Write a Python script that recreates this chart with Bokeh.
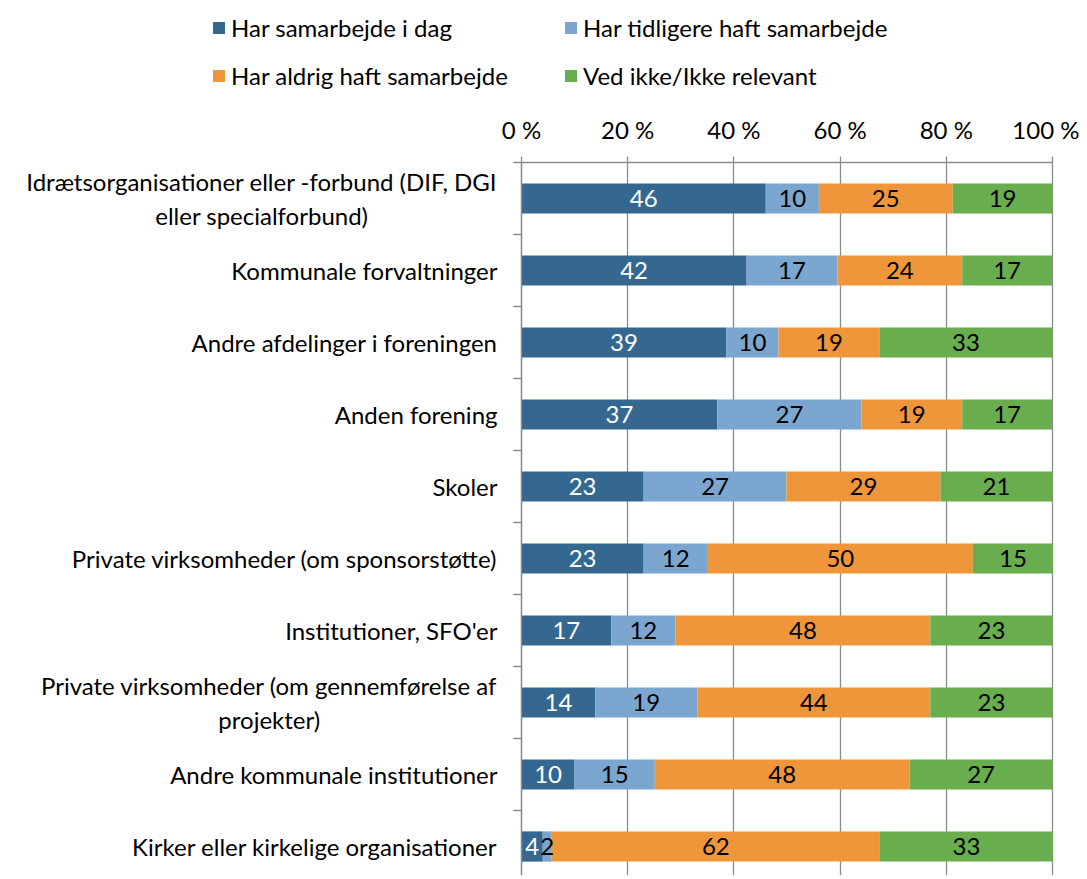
from bokeh.plotting import figure
from bokeh.models import (ColumnDataSource, Range1d, FixedTicker, Legend, LegendItem, Text)
from bokeh.core.properties import value
from bokeh.embed import file_html
from bokeh.resources import INLINE
import numpy as np

categories = [
    "Idrætsorganisationer eller -forbund (DIF, DGI\neller specialforbund)",
    "Kommunale forvaltninger",
    "Andre afdelinger i foreningen",
    "Anden forening",
    "Skoler",
    "Private virksomheder (om sponsorstøtte)",
    "Institutioner, SFO'er",
    "Private virksomheder (om gennemførelse af\nprojekter)",
    "Andre kommunale institutioner",
    "Kirker eller kirkelige organisationer",
]
series_names = ["Har samarbejde i dag", "Har tidligere haft samarbejde",
                "Har aldrig haft samarbejde", "Ved ikke/Ikke relevant"]
har_i_dag = [46.0, 42.4, 38.6, 36.9, 23.0, 23.0, 16.9, 13.9, 10.0, 4.0]
tidligere = [10.0, 17.1, 9.8, 27.1, 26.9, 12.1, 12.1, 19.2, 15.1, 1.7]
aldrig = [25.2, 23.5, 19.0, 19.0, 29.0, 49.9, 48.0, 43.9, 48.0, 61.8]
ved_ikke = [18.8, 16.9, 32.6, 16.9, 21.1, 15.1, 23.0, 23.0, 26.9, 32.6]
x_ticks = [0, 20, 40, 60, 80, 100]
x_tick_labels = ["0 %", "20 %", "40 %", "60 %", "80 %", "100 %"]

colors = ["#346891", "#7aa6cf", "#f0963a", "#69ad4f"]
label_colors = ["white", "black", "black", "black"]
FONT = "Lato"
FS = "24px"
GRID = "#8c8c8c"

# layout constants (pixels)
W, H = 1079, 875
FRAME_L, FRAME_R, FRAME_T = 521, 1052, 162
ROW_PX = 72.0
px_per_pct = (FRAME_R - FRAME_L) / 100.0
x_start = -FRAME_L / px_per_pct
x_end = 100 + (W - FRAME_R) / px_per_pct
y_top = -0.5 - FRAME_T / ROW_PX
y_bottom = -0.5 + (H - FRAME_T) / ROW_PX

keys = ["s0", "s1", "s2", "s3"]
series = [har_i_dag, tidligere, aldrig, ved_ikke]
ys = list(range(len(categories)))
data = {"y": ys}
for k, s in zip(keys, series):
    data[k] = s
source = ColumnDataSource(data)

p = figure(width=W, height=H, output_backend="svg", toolbar_location=None,
           x_range=Range1d(x_start, x_end), y_range=Range1d(y_bottom, y_top),
           x_axis_location="above", min_border_left=0, min_border_right=0,
           min_border_top=0, min_border_bottom=0)
p.outline_line_color = None

# gridlines limited to the plot area
has_cross = "cross_bounds" in p.xgrid[0].properties()
if has_cross:
    p.xgrid.ticker = FixedTicker(ticks=x_ticks)
    p.xgrid.bounds = (0, 100)
    p.xgrid.cross_bounds = (-0.5, y_bottom)
    p.xgrid.grid_line_color = GRID
    p.xgrid.grid_line_width = 1.3
else:
    p.xgrid.grid_line_color = None
    gsrc = ColumnDataSource(dict(x=x_ticks, y0=[-0.5] * len(x_ticks), y1=[y_bottom] * len(x_ticks)))
    p.segment(x0="x", x1="x", y0="y0", y1="y1", source=gsrc, line_color=GRID,
              line_width=1.3, level="underlay")
p.ygrid.grid_line_color = None

renderers = p.hbar_stack(keys, y="y", height=0.42, color=colors, source=source,
                         line_color=None)

cum = np.zeros(len(categories))
for s, k, tc in zip(series, keys, label_colors):
    arr = np.array(s)
    mids = cum + arr / 2.0
    cum = cum + arr
    lsrc = ColumnDataSource(dict(x=mids, y=ys, t=[str(int(round(v))) for v in s]))
    p.text(x="x", y="y", text="t", source=lsrc, text_align="center",
           text_baseline="middle", text_color=tc, text_font=value(FONT),
           text_font_size=FS)

# top axis
xa = p.xaxis[0]
xa.fixed_location = -0.5
xa.bounds = (0, 100)
xa.ticker = FixedTicker(ticks=x_ticks)
xa.major_label_overrides = {t: l for t, l in zip(x_ticks, x_tick_labels)}
xa.axis_line_color = GRID
xa.axis_line_width = 1.3
xa.major_tick_line_color = GRID
xa.major_tick_line_width = 1.3
xa.major_tick_out = 6
xa.major_tick_in = 0
xa.minor_tick_line_color = None
xa.major_label_standoff = 13
xa.major_label_text_font = FONT
xa.major_label_text_font_size = FS
xa.major_label_text_color = "black"

# left axis (category separators as minor ticks)
ya = p.yaxis[0]
ya.fixed_location = 0
ya.bounds = (-0.5, y_bottom)
ya.axis_line_color = GRID
ya.axis_line_width = 1.3
ya.major_tick_line_color = None
ya.minor_tick_line_color = GRID
ya.minor_tick_line_width = 1.3
ya.minor_tick_out = 8
ya.minor_tick_in = 0

use_text_labels = "anchor" in Text.properties()
if use_text_labels:
    ya.ticker = FixedTicker(ticks=ys, minor_ticks=[i - 0.5 for i in range(len(categories) + 1)])
    ya.major_label_overrides = {i: "" for i in ys}
    ya.major_label_text_font_size = "0px"
    csrc = ColumnDataSource(dict(x=[0] * len(categories), y=ys, t=categories))
    p.text(x="x", y="y", text="t", source=csrc, anchor="center_right",
           text_align="center", text_baseline="middle", x_offset=-24,
           text_color="black", text_font=value(FONT), text_font_size=FS,
           text_line_height=1.2)
else:
    ya.ticker = FixedTicker(ticks=ys, minor_ticks=[i - 0.5 for i in range(len(categories) + 1)])
    ya.major_label_overrides = {i: c for i, c in enumerate(categories)}
    ya.major_label_standoff = 16
    ya.major_label_text_font = FONT
    ya.major_label_text_font_size = FS
    ya.major_label_text_color = "black"

legend = Legend(items=[LegendItem(label=n, renderers=[r]) for n, r in zip(series_names, renderers)],
                orientation="horizontal", ncols=2, location=(211, H - 90),
                border_line_color=None, background_fill_alpha=0,
                label_text_font=FONT, label_text_font_size=FS, label_text_color="black",
                glyph_width=15, glyph_height=15, label_standoff=5,
                label_height=22, label_width=313, spacing=19, padding=0, margin=0)
p.add_layout(legend, "center")

open("out.html", "w").write(file_html(p, INLINE))
